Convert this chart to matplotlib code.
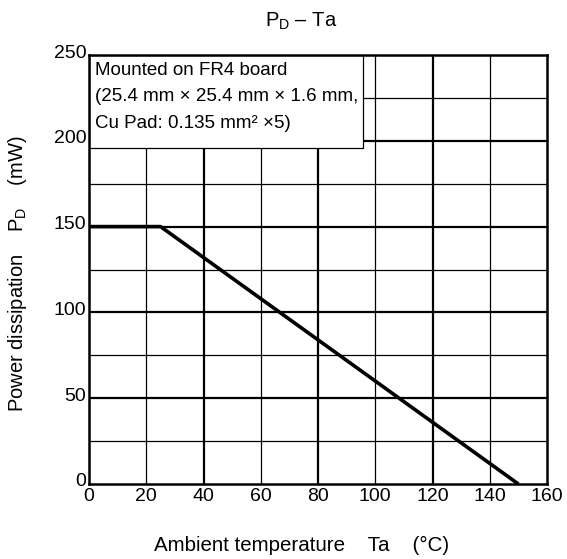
import matplotlib
matplotlib.use("Agg")
import matplotlib.pyplot as plt
from matplotlib.patches import Rectangle
import matplotlib.transforms as mtransforms

plt.rcParams['font.family'] = ['Liberation Sans', 'DejaVu Sans']
plt.rcParams['mathtext.fontset'] = 'custom'
plt.rcParams['mathtext.rm'] = 'Liberation Sans'
plt.rcParams['mathtext.it'] = 'Liberation Sans'
plt.rcParams['mathtext.default'] = 'regular'

# Data
ta = [0, 25, 150]
pd_mw = [150, 150, 0]
x_ticks = [0, 20, 40, 60, 80, 100, 120, 140, 160]
y_ticks = [0, 50, 100, 150, 200, 250]
x_thick = [40, 80, 120]
x_thin = [20, 60, 100, 140]
y_thick = [50, 100, 150, 200]
y_thin = [25, 75, 125, 175, 225]

W, H = 567, 559
fig = plt.figure(figsize=(W / 100, H / 100), dpi=100)
L, R, T, B = 89, 547, 55, 484
ax = fig.add_axes([L / W, 1 - B / H, (R - L) / W, (B - T) / H])

ax.set_xlim(0, 160)
ax.set_ylim(0, 250)

for v in x_thin:
    ax.axvline(v, color='black', lw=0.9, zorder=1)
for v in x_thick:
    ax.axvline(v, color='black', lw=1.6, zorder=1)
for v in y_thin:
    ax.axhline(v, color='black', lw=0.9, zorder=1)
for v in y_thick:
    ax.axhline(v, color='black', lw=1.6, zorder=1)

ax.plot(ta, pd_mw, color='black', lw=2.6, zorder=3, solid_capstyle='butt')

for s in ax.spines.values():
    s.set_linewidth(1.8)
    s.set_zorder(5)

ax.set_xticks(x_ticks)
ax.set_yticks(y_ticks)
ax.tick_params(length=0, labelsize=14)
ax.tick_params(axis='x', pad=3)
ax.tick_params(axis='y', pad=2)
off = mtransforms.ScaledTranslation(0, 4 / 100, fig.dpi_scale_trans)
for t in ax.yaxis.get_major_ticks():
    t.label1.set_transform(t.label1.get_transform() + off)

# Annotation box
bx1 = (363 - L) / (R - L)
by0 = (B - 148) / (B - T)
ax.add_patch(Rectangle((0, by0), bx1, 1 - by0, transform=ax.transAxes,
                       facecolor='white', edgecolor='black', lw=0.9, zorder=4))
ax.text((95 - L) / (R - L), 1 - (62 - T) / (B - T),
        "Mounted on FR4 board\n(25.4 mm \u00d7 25.4 mm \u00d7 1.6 mm,\nCu Pad: 0.135 mm\u00b2 \u00d75)",
        transform=ax.transAxes, ha='left', va='top', fontsize=13.5,
        linespacing=1.72, zorder=6)

fig.text(301 / W, 1 - 27 / H, "P$_{D}$ \u2013 Ta", ha='center', va='baseline', fontsize=14.5)
fig.text(302 / W, 1 - 551 / H, "Ambient temperature    Ta    (\u00b0C)",
         ha='center', va='baseline', fontsize=14.8)
fig.text(18 / W, 1 - 274 / H, "Power dissipation    P$_{D}$    (mW)",
         ha='center', va='center', rotation=90, fontsize=14.5)

fig.savefig("out.png", dpi=100)
